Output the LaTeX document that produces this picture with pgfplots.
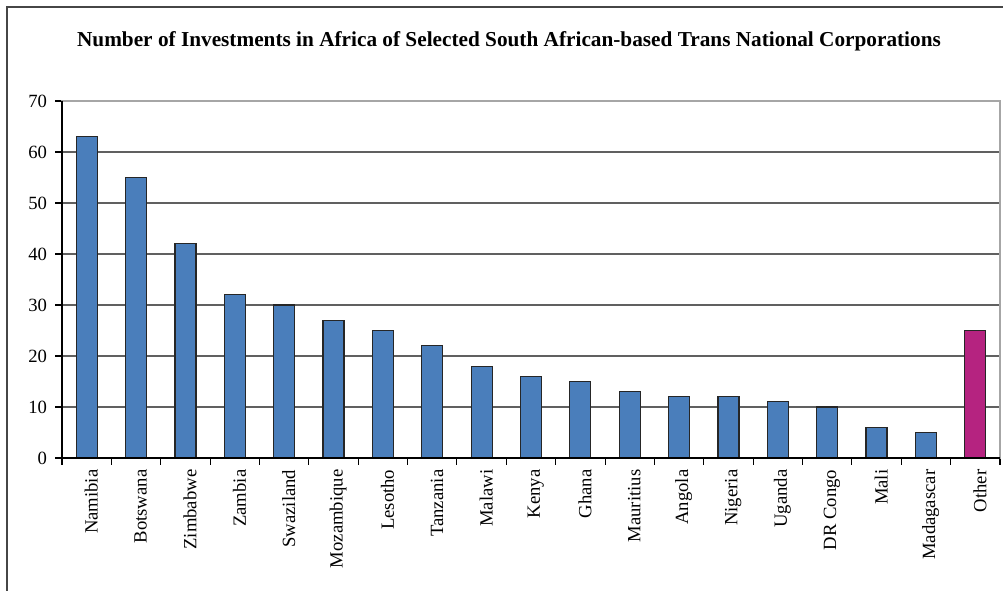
\documentclass[border=0pt]{standalone}
\usepackage{pgfplots}
\pgfplotsset{compat=1.18}
\usepackage{fontspec}
\setmainfont{Liberation Serif}
\definecolor{barblue}{RGB}{74,126,187}
\definecolor{barmag}{RGB}{181,35,128}
\definecolor{framegray}{RGB}{70,70,70}
\begin{document}
\begin{tikzpicture}[x=0.75pt,y=0.75pt]
\useasboundingbox (0,0) rectangle (1003,591);
\draw[framegray, line width=1.1pt] (7,-20) -- (7,584) -- (1020,584);
\node[font=\bfseries\fontsize{15.95}{18}\selectfont] at (509,550) {Number of Investments in Africa of Selected South African-based Trans National Corporations};
\begin{axis}[
  at={(46.5pt,99.75pt)}, anchor=south west,
  width=703.5pt, height=267.75pt, scale only axis,
  xmin=-0.5, xmax=18.5, ymin=0, ymax=70,
  ytick={0,10,...,70},
  ymajorgrids, grid style={draw=gray!75!black, line width=0.9pt},
  axis line style={draw=gray!70, line width=0.9pt},
  tick align=outside, xtick pos=bottom, ytick pos=left,
  major tick length=5.25pt, minor tick length=5.25pt,
  tick style={black, line width=0.8pt},
  xtick={0,...,18},
  major x tick style={draw=none},
  minor xtick={-0.5,0.5,...,18.5},
  xticklabels={Namibia,Botswana,Zimbabwe,Zambia,Swaziland,Mozambique,Lesotho,Tanzania,Malawi,Kenya,Ghana,Mauritius,Angola,Nigeria,Uganda,DR Congo,Mali,Madagascar,Other},
  xticklabel style={rotate=90, anchor=east, font=\fontsize{14}{15}\selectfont, yshift=-3.5pt},
  yticklabel style={font=\fontsize{14}{15}\selectfont, xshift=-2.5pt},
  /pgf/number format/assume math mode=true,
  ybar, bar width=15.75pt,
  clip=false,
]
\addplot[ybar, bar shift=0pt, fill=barblue, draw=black!85, line width=0.9pt] coordinates {
(0,63) (1,55) (2,42) (3,32) (4,30) (5,27) (6,25) (7,22) (8,18) (9,16) (10,15) (11,13) (12,12) (13,12) (14,11) (15,10) (16,6) (17,5)};
\addplot[ybar, bar shift=0pt, fill=barmag, draw=black!85, line width=0.9pt] coordinates {(18,25)};
\draw[black, line width=0.9pt] (rel axis cs:0,1) -- (rel axis cs:0,0) -- (rel axis cs:1,0);
\end{axis}
\end{tikzpicture}
\end{document}
